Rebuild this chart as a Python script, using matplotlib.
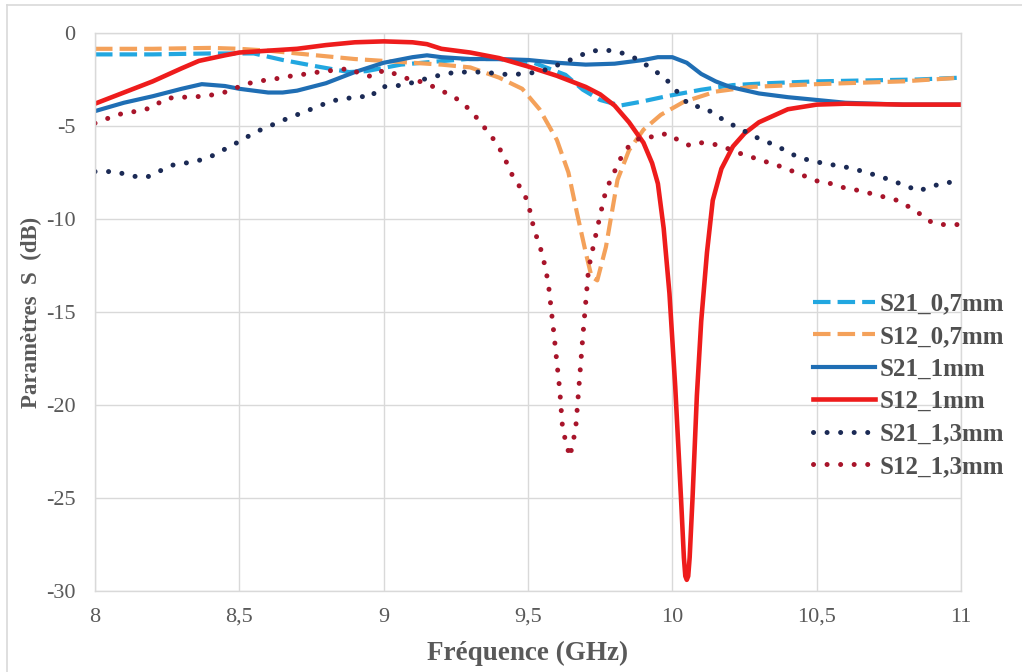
import matplotlib
matplotlib.use("Agg")
import matplotlib.pyplot as plt
from matplotlib.lines import Line2D

plt.rcParams['font.family'] = ['Liberation Serif', 'DejaVu Serif']

# --- data (frequency in GHz, S in dB) ---
f_s21_07 = [8.0, 8.2, 8.4, 8.55, 8.65, 8.77, 8.88, 8.94, 9.06, 9.17, 9.29, 9.4, 9.52,
            9.63, 9.69, 9.75, 9.82, 9.89, 9.98, 10.1, 10.21, 10.33, 10.5, 10.67, 10.85, 11.0]
s21_07 = [-1.15, -1.15, -1.1, -1.1, -1.45, -1.8, -2.1, -2.05, -1.7, -1.55, -1.4, -1.4, -1.6,
          -2.25, -3.05, -3.6, -3.9, -3.7, -3.4, -3.05, -2.8, -2.7, -2.6, -2.55, -2.5, -2.4]

f_s12_07 = [8.0, 8.2, 8.4, 8.5, 8.6, 8.7, 8.8, 8.9, 9.0, 9.1, 9.2, 9.3, 9.4, 9.48, 9.54,
            9.6, 9.64, 9.67, 9.7, 9.72, 9.74, 9.77, 9.79, 9.81, 9.85, 9.9, 9.96, 10.04,
            10.15, 10.27, 10.5, 10.8, 11.0]
s12_07 = [-0.85, -0.85, -0.8, -0.85, -0.95, -1.1, -1.25, -1.4, -1.5, -1.6, -1.7, -1.85, -2.4,
          -3.0, -4.1, -5.75, -7.5, -9.7, -11.8, -13.1, -13.3, -11.5, -9.7, -7.9, -6.3,
          -5.2, -4.4, -3.7, -3.15, -2.9, -2.75, -2.6, -2.4]

f_s21_1 = [8.0, 8.1, 8.2, 8.3, 8.37, 8.45, 8.5, 8.6, 8.65, 8.7, 8.8, 8.9, 9.0, 9.1, 9.15,
           9.2, 9.3, 9.4, 9.5, 9.6, 9.7, 9.8, 9.9, 9.95, 10.0, 10.05, 10.1, 10.15, 10.2,
           10.3, 10.4, 10.5, 10.6, 10.8, 11.0]
s21_1 = [-4.2, -3.75, -3.4, -3.0, -2.75, -2.85, -3.0, -3.2, -3.2, -3.1, -2.7, -2.1, -1.6,
         -1.3, -1.2, -1.3, -1.4, -1.4, -1.45, -1.6, -1.7, -1.65, -1.45, -1.3, -1.3, -1.6,
         -2.2, -2.6, -2.9, -3.25, -3.45, -3.6, -3.75, -3.85, -3.85]

f_s12_1 = [8.0, 8.1, 8.2, 8.3, 8.36, 8.45, 8.5, 8.6, 8.7, 8.8, 8.9, 9.0, 9.1, 9.15, 9.2,
           9.3, 9.4, 9.5, 9.6, 9.7, 9.75, 9.8, 9.85, 9.9, 9.93, 9.95, 9.97, 9.99, 10.01,
           10.03, 10.04, 10.045, 10.05, 10.055, 10.06, 10.07, 10.085, 10.1, 10.12, 10.14,
           10.17, 10.21, 10.25, 10.3, 10.4, 10.5, 10.6, 10.8, 11.0]
s12_1 = [-3.8, -3.2, -2.6, -1.9, -1.5, -1.2, -1.05, -0.95, -0.85, -0.65, -0.5, -0.45, -0.5,
         -0.6, -0.85, -1.05, -1.35, -1.8, -2.3, -2.9, -3.3, -3.9, -4.8, -5.9, -7.0, -8.1,
         -10.5, -14.0, -19.0, -25.0, -28.2, -29.2, -29.4, -29.2, -28.2, -25.0, -19.5,
         -15.5, -11.8, -9.0, -7.3, -6.1, -5.4, -4.8, -4.1, -3.85, -3.8, -3.85, -3.85]

f_s21_13 = [8.0, 8.07, 8.13, 8.18, 8.22, 8.27, 8.35, 8.4, 8.48, 8.56, 8.65, 8.74, 8.82,
            8.92, 8.95, 8.99, 9.07, 9.17, 9.25, 9.34, 9.44, 9.54, 9.59, 9.63, 9.67, 9.71,
            9.76, 9.81, 9.85, 9.89, 9.93, 9.97, 10.0, 10.03, 10.06, 10.11, 10.15, 10.19,
            10.23, 10.27, 10.31, 10.36, 10.4, 10.44, 10.49, 10.54, 10.58, 10.63, 10.67,
            10.72, 10.76, 10.81, 10.85, 10.89, 10.94, 11.0]
s21_13 = [-7.45, -7.45, -7.7, -7.75, -7.45, -7.1, -6.9, -6.65, -6.0, -5.3, -4.7, -4.15, -3.65,
          -3.4, -3.5, -2.9, -2.8, -2.35, -2.1, -2.1, -2.25, -2.1, -1.8, -1.55, -1.3, -1.0,
          -0.9, -1.0, -1.2, -1.5, -1.95, -2.35, -2.85, -3.4, -3.9, -4.0, -4.4, -4.8, -5.1,
          -5.45, -5.75, -6.05, -6.4, -6.7, -6.9, -7.05, -7.15, -7.3, -7.5, -7.7, -7.95,
          -8.2, -8.5, -8.3, -8.05, -8.0]

f_s12_13 = [8.0, 8.06, 8.1, 8.15, 8.2, 8.24, 8.28, 8.33, 8.37, 8.42, 8.47, 8.51, 8.56, 8.61,
            8.65, 8.7, 8.74, 8.79, 8.84, 8.88, 8.92, 8.96, 9.0, 9.05, 9.09, 9.14, 9.18, 9.22,
            9.26, 9.3, 9.33, 9.36, 9.39, 9.41, 9.43, 9.45, 9.48, 9.5, 9.52, 9.55, 9.57,
            9.59, 9.61, 9.62, 9.645, 9.665, 9.69, 9.71, 9.73, 9.75, 9.77, 9.81, 9.83, 9.86,
            9.9, 9.94, 9.98, 10.02, 10.06, 10.1, 10.15, 10.19, 10.23, 10.28, 10.33, 10.37,
            10.42, 10.46, 10.5, 10.55, 10.59, 10.64, 10.68, 10.73, 10.78, 10.82, 10.86,
            10.9, 10.94, 11.0]
s12_13 = [-4.85, -4.5, -4.3, -4.2, -4.0, -3.55, -3.45, -3.45, -3.4, -3.3, -3.1, -2.8, -2.6,
          -2.5, -2.4, -2.25, -2.2, -2.05, -2.0, -1.9, -2.2, -2.35, -2.0, -2.25, -2.5, -2.65,
          -2.95, -3.25, -3.6, -4.15, -4.7, -5.3, -5.9, -6.45, -7.1, -7.8, -8.45, -9.1, -10.5,
          -11.9, -13.4, -16.2, -19.2, -21.3, -22.8, -21.3, -16.3, -12.65, -11.2, -9.8,
          -8.45, -7.1, -6.45, -5.9, -5.55, -5.6, -5.4, -5.75, -6.05, -5.9, -6.0, -6.2, -6.45,
          -6.7, -6.95, -7.15, -7.45, -7.7, -7.95, -8.1, -8.3, -8.45, -8.6, -8.8, -9.0, -9.35,
          -9.75, -10.2, -10.3, -10.3]

W, H = 1022, 672
fig = plt.figure(figsize=(W / 100, H / 100), dpi=100)
ax = fig.add_axes([95 / W, 1 - 591 / H, (961 - 95) / W, (591 - 33) / H])

grid_c = '#D9D9D9'
dash = (0, (4.2, 1.7))
dot = (0, (0.01, 2.7))

ax.plot(f_s21_07, s21_07, color='#22A7E0', lw=3.0, linestyle=dash, dash_capstyle='butt',
        label='S21_0,7mm')
ax.plot(f_s12_07, s12_07, color='#F4A15A', lw=3.0, linestyle=dash, dash_capstyle='butt',
        label='S12_0,7mm')
ax.plot(f_s21_1, s21_1, color='#1F6EB4', lw=3.0, solid_joinstyle='round', label='S21_1mm')
ax.plot(f_s12_1, s12_1, color='#EE1C1C', lw=3.3, solid_joinstyle='round', label='S12_1mm')
ax.plot(f_s21_13, s21_13, color='#1B2A55', lw=3.6, linestyle=dot, dash_capstyle='round',
        label='S21_1,3mm')
ax.plot(f_s12_13, s12_13, color='#A8142A', lw=3.6, linestyle=dot, dash_capstyle='round',
        label='S12_1,3mm')

ax.set_xlim(8, 11)
ax.set_ylim(-30, 0)
xt = [8, 8.5, 9, 9.5, 10, 10.5, 11]
ax.set_xticks(xt)
ax.set_xticklabels(['8', '8,5', '9', '9,5', '10', '10,5', '11'])
ax.set_yticks(range(-30, 1, 5))
ax.set_yticklabels([str(v) for v in range(-30, 1, 5)])
ax.grid(True, color=grid_c, lw=1)
ax.set_axisbelow(True)
for s in ax.spines.values():
    s.set_color(grid_c)
    s.set_linewidth(1)
ax.tick_params(length=0, labelsize=16, labelcolor='#595959')
ax.tick_params(axis='y', pad=14)
ax.tick_params(axis='x', pad=12)

ax.set_xlabel('Fréquence (GHz)', fontsize=19.5, fontweight='bold', color='#595959', labelpad=10)
ax.set_ylabel('Paramètres  S  (dB)', fontsize=16.5, fontweight='bold', color='#595959', labelpad=3)

leg = ax.legend(loc='upper left', bbox_to_anchor=(800 / W, 1 - 280 / H),
                bbox_transform=fig.transFigure, frameon=False, borderpad=0,
                handlelength=2.5, handletextpad=0.2, labelspacing=0.38,
                prop={'size': 18, 'weight': 'bold'})
for t in leg.get_texts():
    t.set_color('#505050')

# outer chart frame
fig.add_artist(Line2D([7 / W, 1], [1 - 5 / H, 1 - 5 / H], color=grid_c, lw=1.2))
fig.add_artist(Line2D([7 / W, 7 / W], [0, 1 - 5 / H], color=grid_c, lw=1.2))

fig.savefig('out.png', dpi=100, facecolor='white')
